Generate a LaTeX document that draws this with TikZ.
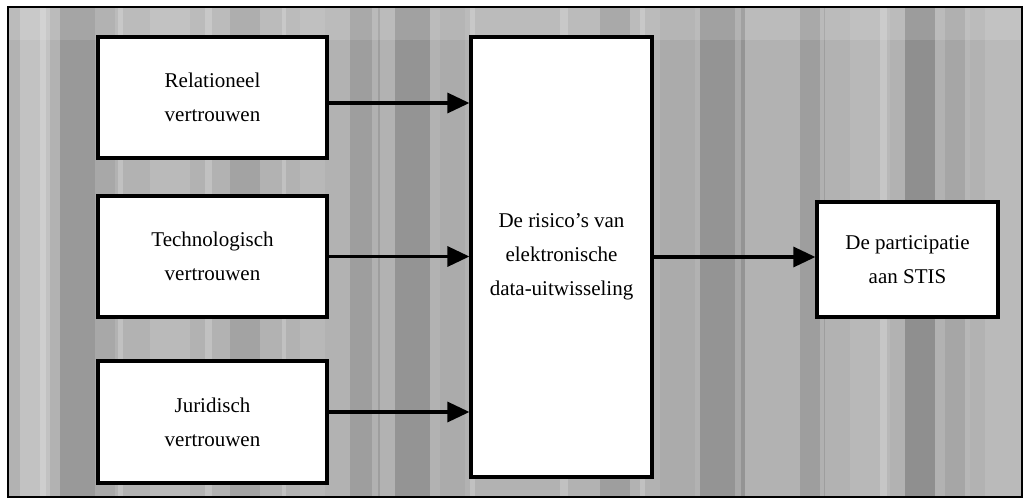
\documentclass[tikz,border=0pt]{standalone}
\usepackage{fontspec}
\setmainfont{Liberation Serif}
\usetikzlibrary{arrows.meta}
\begin{document}
\begin{tikzpicture}[x=1pt,y=-1pt,
  box/.style={draw=black,line width=3.2pt,fill=white,align=center,
    inner sep=0pt,font=\fontsize{21}{34}\selectfont},
  link/.style={line width=3.2pt,-{Triangle[length=22pt,width=20pt]}}]
\useasboundingbox (0,0) rectangle (1026,499);
% textured grey backdrop with vertical streaks
\fill[black!30] (8,7) rectangle (1022,497);
\begin{scope}
\clip (8,7) rectangle (1022,497);
\foreach \xa/\w/\s in {20/30/24,60/35/40,95/20/34,150/40/27,230/30/36,
  300/25/28,350/30/38,395/35/42,440/25/33,520/40/30,600/30/38,
  660/35/33,700/45/42,760/30/30,800/25/38,850/40/28,905/30/44,
  945/25/35,985/37/27}
  \fill[black!\s] (\xa,7) rectangle ++(\w,490);
\foreach \xa/\w in {40/6,118/5,205/7,282/4,372/6,470/5,560/8,640/5,735/6,
  820/4,880/7,965/5}
  \fill[white,opacity=0.2] (\xa,7) rectangle ++(\w,490);
\fill[white,opacity=0.12] (8,7) rectangle (1022,40);
\end{scope}
\draw[line width=2.2pt] (8,7) rectangle (1022,497);
% boxes
\node[box,minimum width=229pt,minimum height=121pt] (rel) at (212.5,97.5)
  {Relationeel\\vertrouwen};
\node[box,minimum width=229pt,minimum height=121pt] (tech) at (212.5,256.5)
  {Technologisch\\vertrouwen};
\node[box,minimum width=229pt,minimum height=122pt] (jur) at (212.5,422)
  {Juridisch\\vertrouwen};
\node[box,minimum width=181pt,minimum height=440pt] (risk) at (561.5,257)
  {De risico’s van\\elektronische\\data-uitwisseling};
\node[box,minimum width=181pt,minimum height=115pt] (part) at (907.5,259.5)
  {De participatie\\aan STIS};
% connectors
\draw[link] ([yshift=-5.5pt]rel.east) -- ([yshift=-5.5pt]rel.east -| risk.west);
\draw[link] (tech.east) -- (tech.east -| risk.west);
\draw[link] ([yshift=10pt]jur.east) -- ([yshift=10pt]jur.east -| risk.west);
\draw[link] (risk.east) -- (risk.east -| part.west);
\end{tikzpicture}
\end{document}
